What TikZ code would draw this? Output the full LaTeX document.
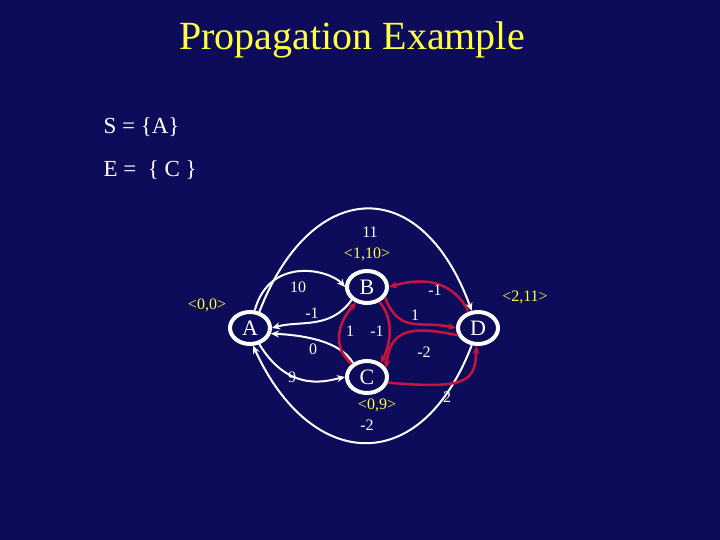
\documentclass[tikz,border=0pt]{standalone}
\usepackage{fontspec}
\setmainfont{Liberation Serif}
\usetikzlibrary{arrows.meta,shapes.geometric}
\definecolor{bg}{RGB}{12,12,90}
\definecolor{ttl}{RGB}{255,255,70}
\definecolor{rd}{RGB}{200,20,60}
\begin{document}
\begin{tikzpicture}[x=1pt,y=-1pt,
  st/.style={draw=white,line width=4pt,ellipse,minimum width=40pt,minimum height=32pt,inner sep=0pt,text=white,font=\fontsize{22}{22}\selectfont},
  we/.style={draw=white,line width=2pt,-{Stealth[length=8pt,width=7pt]}},
  re/.style={draw=rd,line width=2.5pt,-{Stealth[length=8pt,width=7pt]}},
  lb/.style={text=white,font=\fontsize{16}{16}\selectfont,inner sep=0pt},
  yl/.style={text=ttl,font=\fontsize{16}{16}\selectfont,inner sep=0pt}]
\fill[bg] (0,0) rectangle (720,540);
\useasboundingbox (0,0) rectangle (720,540);
\node[text=ttl,font=\fontsize{40}{40}\selectfont] (title) at (352,40) {Propagation Example};
\node[text=white,font=\fontsize{23}{23}\selectfont,anchor=west] (s) at (100,127) {S = \{A\}};
\node[text=white,font=\fontsize{23}{23}\selectfont,anchor=west] (e) at (100,170) {E = \ \{ C \}};
\node[st] (A) at (250,328) {A};
\node[st] (B) at (367,287) {B};
\node[st] (C) at (367,377) {C};
\node[st] (D) at (478,328) {D};
% white edges
\draw[we] (A.60) .. controls (310,180) and (420,170) .. (D.110);
\draw[we] (D.250) .. controls (420,480) and (310,470) .. (A.280);
\draw[we] (A.75) .. controls (270,255) and (330,270) .. (B.west);
\draw[we] (B.220) .. controls (330,330) and (300,320) .. (A.east);
\draw[we] (C.135) .. controls (340,340) and (300,335) .. (A.345);
\draw[we] (A.300) .. controls (290,395) and (330,380) .. (C.west);
% red edges
\draw[re] (C.140) .. controls (330,345) and (340,320) .. (B.235);
\draw[re] (B.310) .. controls (395,320) and (390,345) .. (C.45);
\draw[re] (B.330) .. controls (400,335) and (420,320) .. (D.west);
\draw[re] (D.120) .. controls (455,285) and (430,275) .. (B.east);
\draw[re] (D.200) .. controls (410,325) and (390,330) .. (C.25);
\draw[re] (C.345) .. controls (470,390) and (475,380) .. (D.265);
% labels
\node[lb] (l11) at (370,232) {11};
\node[yl] (vb) at (367,254) {<1,10>};
\node[yl] (va) at (207,305) {<0,0>};
\node[yl] (vd) at (525,297) {<2,11>};
\node[yl] (vc) at (377,405) {<0,9>};
\node[lb] (lm2) at (367,425) {-2};
\node[lb] (l10) at (298,287) {10};
\node[lb] (lm1a) at (312,313) {-1};
\node[lb] (l0) at (313,349) {0};
\node[lb] (l9) at (292,377) {9};
\node[lb] (l1a) at (350,331) {1};
\node[lb] (lm1b) at (377,331) {-1};
\node[lb] (l1b) at (415,315) {1};
\node[lb] (lm1c) at (435,290) {-1};
\node[lb] (lm2b) at (424,352) {-2};
\node[lb] (l2) at (447,397) {2};
\end{tikzpicture}
\end{document}
